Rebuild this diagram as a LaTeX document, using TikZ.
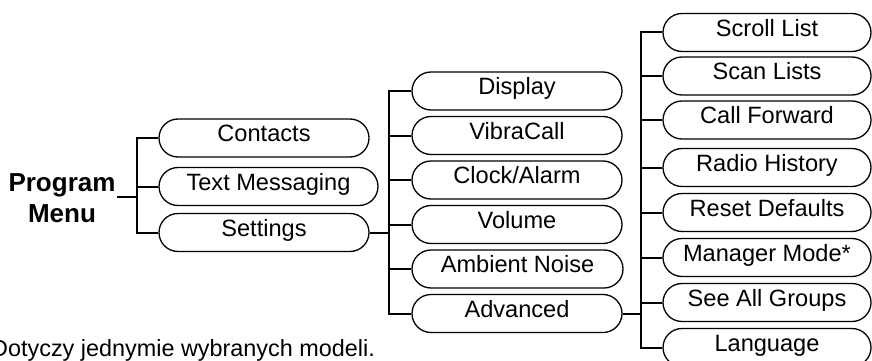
\documentclass[tikz,border=0pt]{standalone}
\usepackage{fontspec}
\setmainfont{Liberation Sans}
\begin{document}
\begin{tikzpicture}[x=1pt,y=-1pt,
  menubox/.style={draw=black,line width=1.3pt,rounded corners=19pt,rectangle,
    minimum width=210pt,minimum height=38pt,inner sep=0pt,
    font=\fontsize{23.6}{28}\selectfont,text height=0.74em,text depth=0pt},
  conn/.style={draw=black,line width=2pt}]
\useasboundingbox (0,0) rectangle (872,361);
% root
\node[anchor=north,inner sep=0pt,align=center,font=\fontsize{26}{31}\selectfont\bfseries] (pm) at (62,173.4) {Program\\Menu};
% column 1
\node[menubox] (c1) at (264,138) {Contacts};
\node[menubox,minimum width=219pt] (c2) at (268.5,186.5) {Text Messaging};
\node[menubox] (c3) at (264,232.5) {Settings};
% column 2
\node[menubox] (d1) at (517,91) {Display};
\node[menubox] (d2) at (517,135.5) {VibraCall};
\node[menubox] (d3) at (517,180) {Clock/Alarm};
\node[menubox] (d4) at (517,224.5) {Volume};
\node[menubox,minimum width=211pt] (d5) at (517.5,269) {Ambient Noise};
\node[menubox] (d6) at (517,313.5) {Advanced};
% column 3
\node[menubox,minimum width=208pt] (e1) at (767,32.5) {Scroll List};
\node[menubox,minimum width=208pt] (e2) at (767,76) {Scan Lists};
\node[menubox,minimum width=208pt] (e3) at (767,120) {Call Forward};
\node[menubox,minimum width=208pt] (e4) at (767,167.5) {Radio History};
\node[menubox,minimum width=208pt] (e5) at (767,212.5) {Reset Defaults};
\node[menubox,minimum width=208pt] (e6) at (767,257.5) {Manager Mode*};
\node[menubox,minimum width=208pt] (e7) at (767,302.5) {See All Groups};
\node[menubox,minimum width=208pt] (e8) at (767,347.5) {Language};
% footnote
\node[anchor=base west,inner sep=0pt,font=\fontsize{23.4}{28}\selectfont] (fn) at (-9,356.5) {Dotyczy jednymie wybranych modeli.};
% junctions
\coordinate (j1) at (137,197);
\coordinate (j2) at (389,232.5);
\coordinate (j3) at (641,313.5);
% connectors level 1
\draw[conn] (j1 -| pm.east) ++(1.5,0) -- (j1);
\draw[conn] (c1.west) -- (c1.west -| j1) -- (c3.west -| j1) -- (c3.west);
\draw[conn] (c2.west) -- (c2.west -| j1);
% level 2
\draw[conn] (c3.east) -- (j2);
\draw[conn] (d1.west) -- (d1.west -| j2) -- (d6.west -| j2) -- (d6.west);
\foreach \n in {d2,d3,d4,d5} \draw[conn] (\n.west) -- (\n.west -| j2);
% level 3
\draw[conn] (d6.east) -- (j3);
\draw[conn] (e1.west) -- (e1.west -| j3) -- (e8.west -| j3) -- (e8.west);
\foreach \n in {e2,e3,e4,e5,e6,e7} \draw[conn] (\n.west) -- (\n.west -| j3);
\end{tikzpicture}
\end{document}
